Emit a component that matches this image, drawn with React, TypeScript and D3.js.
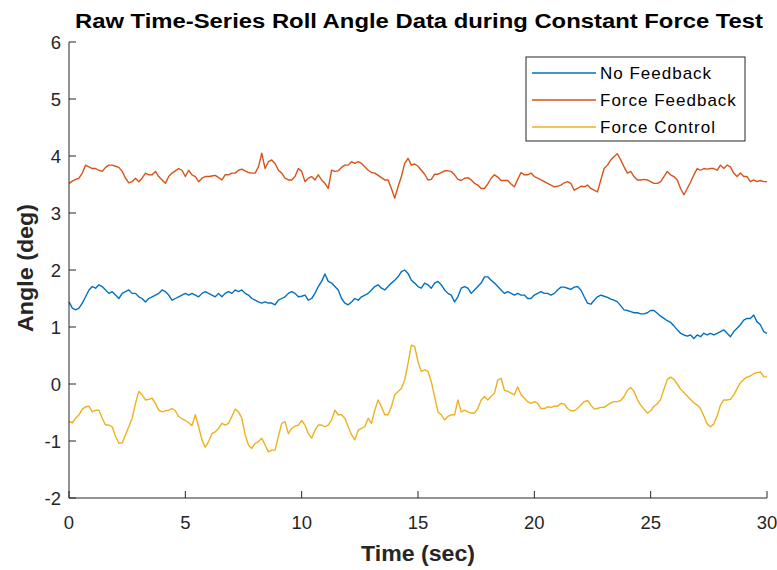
import React from "react";
import * as d3 from "d3";

const title = "Raw Time-Series Roll Angle Data during Constant Force Test";
const xLabel = "Time (sec)";
const yLabel = "Angle (deg)";
const xTicks = [0, 5, 10, 15, 20, 25, 30];
const yTicks = [-2, -1, 0, 1, 2, 3, 4, 5, 6];
const seriesNames = ["No Feedback", "Force Feedback", "Force Control"];
const seriesColors = ["#0072BD", "#D95319", "#EDB120"];

// sampled every 1/7 s from 0 to 30 s (211 samples)
const timeStep = 1 / 7;

const noFeedback = [
  1.44, 1.33, 1.30, 1.33, 1.42, 1.53, 1.65, 1.71, 1.68, 1.74,
  1.71, 1.65, 1.59, 1.62, 1.56, 1.50, 1.59, 1.62, 1.65, 1.59,
  1.59, 1.53, 1.50, 1.44, 1.50, 1.53, 1.56, 1.59, 1.65, 1.62,
  1.56, 1.47, 1.50, 1.53, 1.56, 1.59, 1.56, 1.59, 1.56, 1.53,
  1.59, 1.62, 1.59, 1.56, 1.53, 1.59, 1.53, 1.59, 1.62, 1.59,
  1.65, 1.62, 1.65, 1.59, 1.56, 1.50, 1.47, 1.44, 1.42, 1.44,
  1.42, 1.42, 1.39, 1.47, 1.50, 1.53, 1.59, 1.62, 1.59, 1.53,
  1.54, 1.56, 1.47, 1.50, 1.59, 1.71, 1.80, 1.93, 1.80, 1.77,
  1.71, 1.65, 1.50, 1.42, 1.39, 1.44, 1.50, 1.47, 1.53, 1.56,
  1.59, 1.65, 1.71, 1.74, 1.68, 1.65, 1.71, 1.77, 1.82, 1.88,
  1.97, 2.00, 1.94, 1.82, 1.77, 1.71, 1.68, 1.77, 1.74, 1.68,
  1.77, 1.80, 1.74, 1.65, 1.59, 1.56, 1.44, 1.53, 1.68, 1.71,
  1.68, 1.59, 1.65, 1.71, 1.77, 1.88, 1.88, 1.82, 1.77, 1.71,
  1.65, 1.59, 1.62, 1.59, 1.56, 1.59, 1.56, 1.56, 1.50, 1.50,
  1.56, 1.59, 1.62, 1.59, 1.59, 1.56, 1.59, 1.65, 1.70, 1.70,
  1.68, 1.66, 1.70, 1.71, 1.65, 1.53, 1.42, 1.40, 1.47, 1.53,
  1.56, 1.54, 1.52, 1.49, 1.47, 1.44, 1.37, 1.30, 1.29, 1.27,
  1.25, 1.25, 1.23, 1.23, 1.25, 1.29, 1.29, 1.24, 1.19, 1.15,
  1.11, 1.08, 1.02, 0.95, 0.89, 0.86, 0.84, 0.86, 0.80, 0.86,
  0.83, 0.89, 0.86, 0.89, 0.86, 0.89, 0.92, 0.95, 0.89, 0.83,
  0.92, 0.98, 1.04, 1.12, 1.15, 1.15, 1.21, 1.09, 1.04, 0.92,
  0.89,
];

const forceFeedback = [
  3.52, 3.56, 3.59, 3.61, 3.70, 3.84, 3.81, 3.78, 3.78, 3.75,
  3.73, 3.80, 3.84, 3.84, 3.82, 3.80, 3.73, 3.61, 3.53, 3.55,
  3.61, 3.55, 3.61, 3.70, 3.67, 3.67, 3.73, 3.64, 3.58, 3.52,
  3.64, 3.70, 3.74, 3.78, 3.75, 3.64, 3.75, 3.67, 3.64, 3.55,
  3.61, 3.64, 3.64, 3.65, 3.66, 3.62, 3.58, 3.67, 3.67, 3.70,
  3.70, 3.75, 3.77, 3.74, 3.71, 3.70, 3.70, 3.81, 4.05, 3.78,
  3.90, 3.93, 3.87, 3.75, 3.70, 3.61, 3.58, 3.58, 3.64, 3.78,
  3.73, 3.55, 3.61, 3.64, 3.58, 3.67, 3.58, 3.52, 3.43, 3.75,
  3.73, 3.74, 3.80, 3.84, 3.84, 3.90, 3.87, 3.90, 3.87, 3.81,
  3.75, 3.71, 3.70, 3.66, 3.62, 3.58, 3.58, 3.43, 3.26, 3.46,
  3.64, 3.87, 3.96, 3.84, 3.86, 3.82, 3.75, 3.68, 3.58, 3.59,
  3.68, 3.68, 3.71, 3.74, 3.74, 3.73, 3.67, 3.59, 3.57, 3.61,
  3.62, 3.58, 3.52, 3.49, 3.43, 3.43, 3.51, 3.61, 3.67, 3.63,
  3.57, 3.57, 3.57, 3.51, 3.46, 3.59, 3.71, 3.67, 3.67, 3.70,
  3.64, 3.61, 3.58, 3.55, 3.52, 3.49, 3.46, 3.47, 3.49, 3.53,
  3.55, 3.52, 3.40, 3.43, 3.47, 3.46, 3.49, 3.43, 3.40, 3.37,
  3.58, 3.78, 3.84, 3.93, 3.99, 4.04, 3.93, 3.81, 3.70, 3.73,
  3.64, 3.58, 3.58, 3.59, 3.58, 3.55, 3.52, 3.52, 3.55, 3.64,
  3.73, 3.67, 3.64, 3.58, 3.43, 3.32, 3.43, 3.54, 3.67, 3.78,
  3.75, 3.78, 3.77, 3.78, 3.78, 3.75, 3.84, 3.78, 3.84, 3.81,
  3.70, 3.64, 3.70, 3.64, 3.64, 3.55, 3.58, 3.55, 3.57, 3.55,
  3.55,
];

const forceControl = [
  -0.66, -0.68, -0.60, -0.54, -0.44, -0.40, -0.39, -0.49, -0.46, -0.46,
  -0.60, -0.72, -0.72, -0.75, -0.92, -1.04, -1.03, -0.89, -0.75, -0.60,
  -0.34, -0.13, -0.19, -0.28, -0.27, -0.25, -0.34, -0.46, -0.49, -0.47,
  -0.46, -0.43, -0.47, -0.57, -0.61, -0.64, -0.68, -0.73, -0.54, -0.75,
  -0.98, -1.11, -1.01, -0.87, -0.84, -0.78, -0.69, -0.72, -0.69, -0.57,
  -0.44, -0.49, -0.60, -0.89, -1.07, -1.13, -1.04, -1.01, -0.95, -1.07,
  -1.19, -1.16, -1.16, -0.92, -0.69, -0.66, -0.87, -0.78, -0.74, -0.72,
  -0.64, -0.72, -0.87, -0.95, -0.81, -0.72, -0.72, -0.75, -0.72, -0.63,
  -0.46, -0.54, -0.54, -0.60, -0.75, -0.89, -0.98, -0.81, -0.78, -0.75,
  -0.60, -0.69, -0.46, -0.28, -0.40, -0.54, -0.54, -0.40, -0.19, -0.13,
  -0.08, 0.07, 0.36, 0.68, 0.66, 0.39, 0.22, 0.25, 0.22, 0.04,
  -0.22, -0.49, -0.54, -0.63, -0.57, -0.54, -0.54, -0.28, -0.49, -0.46,
  -0.49, -0.51, -0.51, -0.43, -0.28, -0.22, -0.28, -0.22, -0.16, 0.07,
  0.10, -0.11, -0.13, -0.16, -0.19, -0.05, -0.19, -0.25, -0.31, -0.34,
  -0.31, -0.34, -0.43, -0.43, -0.40, -0.41, -0.39, -0.39, -0.34, -0.35,
  -0.43, -0.47, -0.47, -0.43, -0.37, -0.31, -0.29, -0.37, -0.44, -0.43,
  -0.41, -0.41, -0.37, -0.33, -0.31, -0.31, -0.29, -0.22, -0.11, -0.06,
  -0.13, -0.27, -0.37, -0.44, -0.51, -0.47, -0.39, -0.35, -0.27, -0.09,
  0.08, 0.12, 0.08, 0.00, -0.09, -0.15, -0.21, -0.27, -0.33, -0.37,
  -0.43, -0.56, -0.70, -0.75, -0.70, -0.56, -0.37, -0.28, -0.28, -0.27,
  -0.19, -0.08, 0.02, 0.08, 0.12, 0.14, 0.18, 0.20, 0.21, 0.13,
  0.12,
];

const allSeries = [noFeedback, forceFeedback, forceControl];

const W = 777;
const H = 570;
const left = 69;
const right = 767;
const top = 42;
const bottom = 498;
const axisColor = "#262626";
const font = "'Liberation Sans', Arial, Helvetica, sans-serif";

export default function App() {
  const x = d3.scaleLinear().domain([0, 30]).range([left, right]);
  const y = d3.scaleLinear().domain([-2, 6]).range([bottom, top]);
  const line = d3
    .line<number>()
    .x((_, i) => x(Math.min(30, i * timeStep)))
    .y((d) => y(d));

  const legendX = 526;
  const legendY = 57;
  const legendW = 219;
  const legendH = 84;

  return (
    <svg width={W} height={H} style={{ position: "absolute", left: 0, top: 0, background: "#fff" }} fontFamily={font}>
      <rect x={0} y={0} width={W} height={H} fill="#fff" />
      {allSeries.map((s, k) => (
        <path key={k} d={line(s) || ""} fill="none" stroke={seriesColors[k]} strokeWidth={1.4} strokeLinejoin="round" />
      ))}
      {/* axes */}
      <line x1={left} x2={left} y1={top} y2={bottom} stroke={axisColor} strokeWidth={1} />
      <line x1={left} x2={right} y1={bottom} y2={bottom} stroke={axisColor} strokeWidth={1} />
      {xTicks.map((t) => (
        <g key={"x" + t}>
          <line x1={x(t)} x2={x(t)} y1={bottom} y2={bottom - 7} stroke={axisColor} />
          <text x={x(t)} y={bottom + 31} textAnchor="middle" fontSize={18.5} fill={axisColor}>
            {t}
          </text>
        </g>
      ))}
      {yTicks.map((t) => (
        <g key={"y" + t}>
          <line x1={left} x2={left + 7} y1={y(t)} y2={y(t)} stroke={axisColor} />
          <text x={left - 8} y={y(t) + 6.5} textAnchor="end" fontSize={18.5} fill={axisColor}>
            {t}
          </text>
        </g>
      ))}
      <text
        x={418}
        y={561}
        textAnchor="middle"
        fontSize={22}
        fontWeight="bold"
        fill={axisColor}
        textLength={114}
        lengthAdjust="spacingAndGlyphs"
      >
        {xLabel}
      </text>
      <text
        transform={`translate(33,268) rotate(-90)`}
        textAnchor="middle"
        fontSize={22}
        fontWeight="bold"
        fill={axisColor}
        textLength={128}
        lengthAdjust="spacingAndGlyphs"
      >
        {yLabel}
      </text>
      <text
        x={419}
        y={28}
        textAnchor="middle"
        fontSize={20}
        fontWeight="bold"
        fill="#000"
        textLength={688}
        lengthAdjust="spacingAndGlyphs"
      >
        {title}
      </text>
      {/* legend */}
      <rect x={legendX} y={legendY} width={legendW} height={legendH} fill="#fff" stroke={axisColor} strokeWidth={1} />
      {seriesNames.map((n, k) => (
        <g key={n}>
          <line
            x1={legendX + 6}
            x2={legendX + 70}
            y1={legendY + 16 + k * 27}
            y2={legendY + 16 + k * 27}
            stroke={seriesColors[k]}
            strokeWidth={1.4}
          />
          <text x={legendX + 74} y={legendY + 22 + k * 27} fontSize={17} letterSpacing={1} fill="#000">
            {n}
          </text>
        </g>
      ))}
    </svg>
  );
}
